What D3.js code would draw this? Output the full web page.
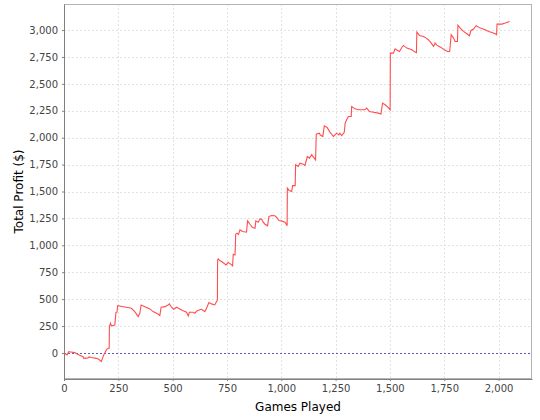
<!DOCTYPE html>
<html>
<head>
<meta charset="utf-8">
<script src="https://cdn.jsdelivr.net/npm/d3@7/dist/d3.min.js"></script>
<style>
  body { margin: 0; background: #fff; }
  svg { display: block; font-family: "DejaVu Sans", sans-serif; }
</style>
</head>
<body>
<div id="chart"></div>
<script>
// cumulative profit after N games
const games = [0, 14, 22, 31, 49, 57, 72, 88, 91, 111, 115, 126, 149, 160, 172, 177, 183, 188, 195, 203, 208, 209, 214, 218, 234, 239, 244, 247, 272, 288, 310, 326, 341, 349, 355, 372, 395, 410, 433, 441, 447, 465, 479, 485, 495, 505, 518, 533, 548, 564, 572, 577, 595, 602, 613, 633, 648, 656, 667, 679, 694, 702, 706, 707, 710, 717, 725, 736, 745, 756, 764, 776, 779, 787, 789, 790, 797, 803, 810, 822, 840, 845, 856, 868, 879, 883, 894, 902, 910, 917, 925, 937, 943, 955, 971, 982, 989, 1001, 1017, 1025, 1027, 1028, 1036, 1048, 1052, 1064, 1066, 1078, 1086, 1101, 1109, 1120, 1130, 1140, 1150, 1158, 1161, 1175, 1180, 1191, 1198, 1211, 1224, 1240, 1255, 1265, 1270, 1278, 1290, 1294, 1301, 1309, 1322, 1324, 1340, 1355, 1384, 1393, 1406, 1424, 1447, 1459, 1466, 1478, 1493, 1501, 1502, 1516, 1524, 1535, 1544, 1555, 1562, 1578, 1601, 1616, 1622, 1624, 1636, 1654, 1667, 1677, 1690, 1701, 1708, 1716, 1727, 1740, 1750, 1765, 1775, 1782, 1793, 1800, 1811, 1813, 1824, 1839, 1854, 1866, 1873, 1885, 1897, 1916, 1939, 1954, 1970, 1985, 1991, 1993, 2016, 2031, 2051]
const profit = [0, -19, 12, 9, 3, -6, -22, -34, -50, -46, -37, -43, -50, -59, -80, -50, -19, 3, 28, 44, 44, 245, 276, 251, 260, 375, 380, 440, 430, 424, 415, 384, 338, 369, 446, 430, 409, 384, 363, 347, 425, 430, 446, 456, 425, 406, 425, 409, 393, 378, 344, 378, 378, 369, 393, 406, 384, 415, 468, 456, 446, 477, 490, 865, 874, 858, 849, 834, 818, 840, 830, 809, 917, 911, 1000, 1103, 1113, 1100, 1143, 1128, 1122, 1227, 1196, 1165, 1159, 1227, 1215, 1246, 1243, 1215, 1196, 1181, 1267, 1277, 1274, 1252, 1230, 1227, 1215, 1190, 1181, 1531, 1510, 1500, 1555, 1555, 1748, 1732, 1763, 1754, 1742, 1825, 1810, 1841, 1815, 1794, 2033, 2042, 2025, 2011, 2110, 2095, 2052, 2011, 2042, 2025, 2042, 2020, 2050, 2135, 2166, 2197, 2197, 2290, 2268, 2259, 2259, 2275, 2243, 2237, 2228, 2219, 2321, 2306, 2280, 2259, 2786, 2786, 2826, 2810, 2801, 2838, 2857, 2832, 2817, 2795, 2790, 2981, 2950, 2940, 2925, 2910, 2879, 2848, 2879, 2860, 2848, 2832, 2817, 2801, 2801, 2956, 2925, 2894, 2894, 3045, 3018, 2987, 2965, 2947, 2996, 3010, 3040, 3018, 3003, 2987, 2978, 2965, 2956, 3055, 3055, 3065, 3080]

const xTicks = [0, 250, 500, 750, 1000, 1250, 1500, 1750, 2000]
const yTicks = [0, 250, 500, 750, 1000, 1250, 1500, 1750, 2000, 2250, 2500, 2750, 3000]
const xDomain = [0, 2154]
const yDomain = [-242, 3242]

const width = 540, height = 420
const margin = { top: 4, right: 8, bottom: 41, left: 64 }
const innerW = width - margin.left - margin.right
const innerH = height - margin.top - margin.bottom

const svg = d3.select("#chart").append("svg")
  .attr("width", width).attr("height", height)

const g = svg.append("g")
  .attr("transform", `translate(${margin.left},${margin.top})`)

const x = d3.scaleLinear().domain(xDomain).range([0, innerW])
const y = d3.scaleLinear().domain(yDomain).range([innerH, 0])

const fmt = d3.format(",")

// Gridlines
g.append("g").selectAll("line").data(xTicks).enter().append("line")
  .attr("x1", d => Math.round(x(d)) + 0.5).attr("x2", d => Math.round(x(d)) + 0.5)
  .attr("y1", 0).attr("y2", innerH)
  .attr("stroke", "#e2e2e2").attr("stroke-dasharray", "2,2")

g.append("g").selectAll("line").data(yTicks).enter().append("line")
  .attr("y1", d => Math.round(y(d)) + 0.5).attr("y2", d => Math.round(y(d)) + 0.5)
  .attr("x1", 0).attr("x2", innerW)
  .attr("stroke", "#e2e2e2").attr("stroke-dasharray", "2,2")

// Plot outline
g.append("rect")
  .attr("x", 0.5).attr("y", 0.5)
  .attr("width", innerW - 1).attr("height", innerH - 1)
  .attr("fill", "none").attr("stroke", "#b4b4b4")

// Zero marker
g.append("line")
  .attr("x1", 0).attr("x2", innerW)
  .attr("y1", Math.round(y(0)) + 0.5).attr("y2", Math.round(y(0)) + 0.5)
  .attr("stroke", "#5a5ab8").attr("stroke-dasharray", "2,2")

// Profit line
const line = d3.line()
  .x((d, i) => x(games[i]))
  .y(d => y(d))

g.append("path")
  .datum(profit)
  .attr("d", line)
  .attr("fill", "none")
  .attr("stroke", "#ff4d4d")
  .attr("stroke-width", 1.1)

// Axes
const xAxis = d3.axisBottom(x).tickValues(xTicks).tickFormat(fmt).tickSize(2).tickSizeOuter(0).tickPadding(4)
const yAxis = d3.axisLeft(y).tickValues(yTicks).tickFormat(fmt).tickSize(2).tickSizeOuter(0).tickPadding(4)

const gx = g.append("g").attr("transform", `translate(0,${innerH})`).call(xAxis)
const gy = g.append("g").call(yAxis)

for (const ax of [gx, gy]) {
  ax.selectAll(".domain").attr("stroke", "#808080")
  ax.selectAll(".tick line").attr("stroke", "#808080")
  ax.selectAll("text").attr("fill", "#444").attr("font-size", "10px")
    .attr("font-family", "'DejaVu Sans', sans-serif")
}

// Axis labels
svg.append("text")
  .attr("x", margin.left + innerW / 2)
  .attr("y", 411)
  .attr("text-anchor", "middle")
  .attr("font-size", "12px")
  .attr("fill", "#000")
  .text("Games Played")

svg.append("text")
  .attr("transform", `translate(23,${margin.top + innerH / 2}) rotate(-90)`)
  .attr("text-anchor", "middle")
  .attr("font-size", "12px")
  .attr("fill", "#000")
  .text("Total Profit ($)")
</script>
</body>
</html>
